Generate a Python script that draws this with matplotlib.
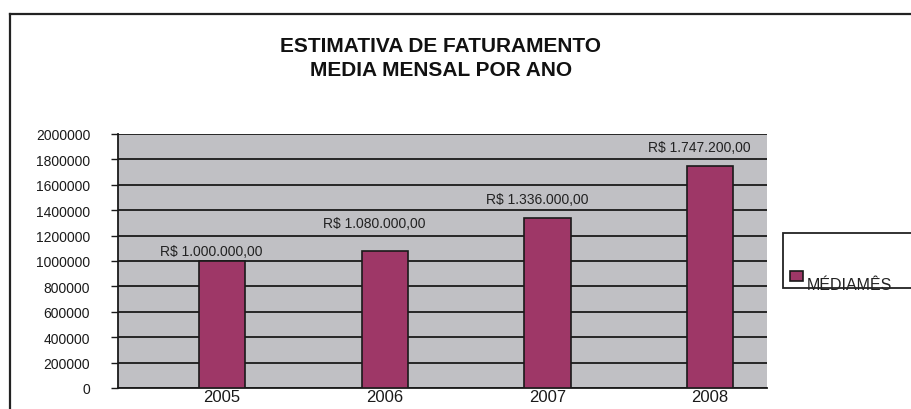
import matplotlib.pyplot as plt
from matplotlib.patches import Rectangle
from matplotlib.lines import Line2D

anos = ['2005', '2006', '2007', '2008']
media_mes = [1000000, 1080000, 1336000, 1747200]
rotulos = ['R$ 1.000.000,00', 'R$ 1.080.000,00', 'R$ 1.336.000,00', 'R$ 1.747.200,00']
yticks = list(range(0, 2000001, 200000))

# deslocamento vertical dos rotulos (px acima da barra), como no original
desloc = [10, 28, 19, 19]

plt.rcParams['font.family'] = ['Liberation Sans', 'DejaVu Sans']

W, H = 912, 410
fig = plt.figure(figsize=(W / 100, H / 100), dpi=100)
fig.patch.set_facecolor('white')

# moldura externa
fig.add_artist(Line2D([10 / W, 10 / W], [0, 1 - 15 / H], color='#222222', lw=1.6, transform=fig.transFigure))
fig.add_artist(Line2D([10 / W, 1], [1 - 15 / H, 1 - 15 / H], color='#222222', lw=1.6, transform=fig.transFigure))

ax = fig.add_axes([118 / W, 21 / H, (767 - 118) / W, (389 - 135) / H])
ax.set_facecolor('#c0c0c4')

x = list(range(len(anos)))
ax.bar(x, media_mes, width=0.285, color='#9e3767', edgecolor='#1a1a1a', linewidth=1.2, zorder=3)

for i, v in enumerate(media_mes):
    ax.annotate(rotulos[i], (x[i], v), xytext=(-7.5, desloc[i] * 0.72), textcoords='offset points',
                ha='center', va='center', fontsize=10, color='#222222')

ax.set_xlim(-0.64, 3.35)
ax.set_ylim(0, 2000000)
ax.set_xticks(x)
ax.set_xticklabels(anos, fontsize=12)
ax.set_yticks(yticks)
ax.set_yticklabels([str(t) for t in yticks], fontsize=10)
ax.yaxis.grid(True, color='#1a1a1a', lw=1.3, zorder=1)
ax.set_axisbelow(True)
ax.tick_params(axis='y', length=5, width=1, pad=15, colors='#1a1a1a')
ax.tick_params(axis='x', length=0, pad=1, colors='#1a1a1a')
for s in ['top', 'right']:
    ax.spines[s].set_visible(False)
ax.spines['left'].set_color('#1a1a1a')
ax.spines['left'].set_linewidth(1.3)
ax.spines['bottom'].set_color('#1a1a1a')
ax.spines['bottom'].set_linewidth(1.3)

fonte_titulo = dict(ha='center', va='center', fontsize=15, family='Liberation Sans',
                    fontweight='bold', color='#111111')
fig.text(441 / W, 1 - 47 / H, 'ESTIMATIVA DE FATURAMENTO', **fonte_titulo)
fig.text(441 / W, 1 - 71 / H, 'MEDIA MENSAL POR ANO', **fonte_titulo)

# legenda
fig.add_artist(Rectangle((783 / W, 1 - 289 / H), (W + 5 - 783) / W, 55 / H, transform=fig.transFigure,
                         facecolor='white', edgecolor='#222222', lw=1.3))
fig.add_artist(Rectangle((790 / W, 1 - 282 / H), 13 / W, 10 / H, transform=fig.transFigure,
                         facecolor='#9e3767', edgecolor='#1a1a1a', lw=1.2))
fig.text(807 / W, 1 - 286 / H, 'MÉDIAMÊS', ha='left', va='center', fontsize=11.5, color='#222222')

fig.savefig('out.png', dpi=100)
